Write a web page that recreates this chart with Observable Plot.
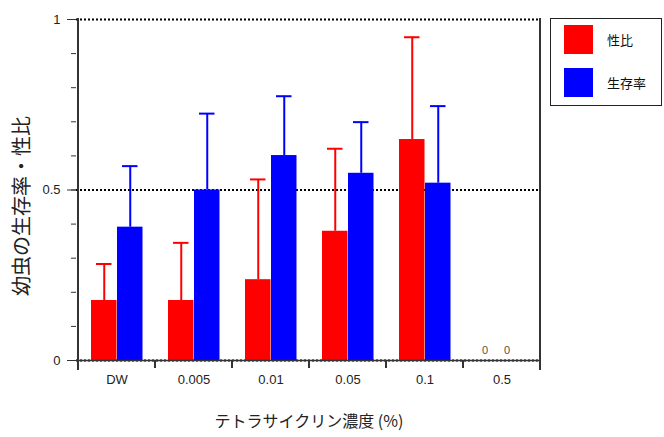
<!DOCTYPE html>
<html>
<head>
<meta charset="utf-8">
<script src="https://cdn.jsdelivr.net/npm/d3@7"></script>
<script src="https://cdn.jsdelivr.net/npm/@observablehq/plot@0.6"></script>
<style>
  html, body { margin: 0; padding: 0; background: #fff; }
  #chart { width: 664px; height: 437px; }
</style>
</head>
<body>
<div id="chart"></div>
<script>
const categories = ["DW", "0.005", "0.01", "0.05", "0.1", "0.5"];
const seriesNames = ["性比", "生存率"];
const seriesColors = ["#ff0000", "#0000ff"];
const sexRatio = [0.176, 0.176, 0.237, 0.379, 0.648, 0];
const sexRatioErr = [0.283, 0.345, 0.531, 0.621, 0.948, null];
const survival = [0.391, 0.500, 0.601, 0.549, 0.520, 0];
const survivalErr = [0.570, 0.724, 0.775, 0.699, 0.746, null];
const yMajorTicks = [0, 0.5, 1];
const yMinorTicks = [0, 0.1, 0.2, 0.3, 0.4, 0.5, 0.6, 0.7, 0.8, 0.9, 1];
const xTitle = "テトラサイクリン濃度 (%)";
const yTitle = "幼虫の生存率・性比";

const red = categories.map((c, i) => ({cat: c, value: sexRatio[i], err: sexRatioErr[i]}));
const blue = categories.map((c, i) => ({cat: c, value: survival[i], err: survivalErr[i]}));
const hasErr = d => d.err != null;
const zeroVal = d => d.value === 0;

const W = 664, H = 437;
const plot = Plot.plot({
  width: W, height: H,
  marginLeft: 76, marginRight: 123, marginTop: 19, marginBottom: 77,
  style: {fontFamily: "'Liberation Sans', 'Noto Sans CJK JP', sans-serif", fontSize: "13px", background: "#fff", color: "#222"},
  x: {type: "band", domain: categories, padding: 0, axis: null},
  y: {domain: [0, 1], axis: null},
  marks: [
    Plot.ruleY(yMajorTicks, {stroke: "#000", strokeWidth: 2, strokeDasharray: "2,2"}),
    Plot.barY(red.filter(d => d.value > 0), {x: "cat", y: "value", fill: seriesColors[0], insetLeft: 13, insetRight: 38.5}),
    Plot.barY(blue.filter(d => d.value > 0), {x: "cat", y: "value", fill: seriesColors[1], insetLeft: 39, insetRight: 12.5}),
    Plot.ruleX(red.filter(hasErr), {x: "cat", y1: "value", y2: "err", stroke: seriesColors[0], strokeWidth: 2, dx: -12.75}),
    Plot.ruleX(blue.filter(hasErr), {x: "cat", y1: "value", y2: "err", stroke: seriesColors[1], strokeWidth: 2, dx: 13.25}),
    Plot.tickY(red.filter(hasErr), {x: "cat", y: "err", stroke: seriesColors[0], strokeWidth: 2, insetLeft: 18, insetRight: 43.5}),
    Plot.tickY(blue.filter(hasErr), {x: "cat", y: "err", stroke: seriesColors[1], strokeWidth: 2, insetLeft: 44, insetRight: 17.5}),
    Plot.text(red.filter(zeroVal), {x: "cat", y: "value", text: d => String(d.value), dx: -17, dy: -10, fill: "#5a5040", fontSize: 11}),
    Plot.text(blue.filter(zeroVal), {x: "cat", y: "value", text: d => String(d.value), dx: 5, dy: -10, fill: "#5a5040", fontSize: 11}),
    Plot.ruleY([0], {stroke: "#333", strokeWidth: 1.5}),
    Plot.axisY(yMinorTicks, {tickSize: 5, tickFormat: () => "", stroke: "#333", label: null}),
    Plot.axisY(yMajorTicks, {tickSize: 9, tickPadding: 7, tickFormat: d => String(d), stroke: "#333", fill: "#222", fontSize: 13, label: null}),
    Plot.axisX({tickSize: 0, tickPadding: 14, fontSize: 13, fill: "#222", label: null}),
    Plot.text([yTitle], {frameAnchor: "left", textAnchor: "middle", rotate: -90, dx: -54, dy: 16, fontSize: 20, fill: "#222", fontFamily: "'Noto Sans CJK JP', sans-serif"}),
    Plot.text([xTitle], {frameAnchor: "bottom", lineAnchor: "middle", dy: 61, fontSize: 16, fill: "#222", fontFamily: "'Noto Sans CJK JP', sans-serif"})
  ]
});
document.getElementById("chart").appendChild(plot);

// Category boundary ticks and axis frame lines, positioned by the plot's own scales
const xs = plot.scale("x"), ys = plot.scale("y");
const svg = d3.select(plot);
const y0 = ys.apply(0), y1 = ys.apply(1);
const step = xs.step != null ? xs.step : xs.bandwidth;
const bounds = categories.map(c => xs.apply(c)).concat([xs.apply(categories[categories.length - 1]) + step]);
const g = svg.append("g").attr("stroke", "#333").attr("stroke-width", 2);
bounds.forEach((bx, i) => {
  const edge = i === 0 || i === bounds.length - 1;
  g.append("line").attr("x1", bx).attr("x2", bx)
    .attr("y1", edge ? y1 - 1 : y0).attr("y2", y0 + (edge ? 10 : 8));
});

// Legend
const lg = svg.append("g").attr("text-anchor", "start");
lg.append("rect").attr("x", 550.5).attr("y", 18.5).attr("width", 111).attr("height", 87)
  .attr("fill", "#fff").attr("stroke", "#222").attr("stroke-width", 1);
seriesNames.forEach((name, i) => {
  lg.append("rect").attr("x", 564).attr("y", 25 + i * 43).attr("width", 29).attr("height", 29)
    .attr("fill", seriesColors[i]);
  lg.append("text").attr("x", 607).attr("y", 40 + i * 43).attr("dy", "0.35em")
    .attr("text-anchor", "start")
    .attr("font-size", 13).attr("fill", "#111").attr("font-family", "'Noto Sans CJK JP', sans-serif")
    .text(name);
});
</script>
</body>
</html>
